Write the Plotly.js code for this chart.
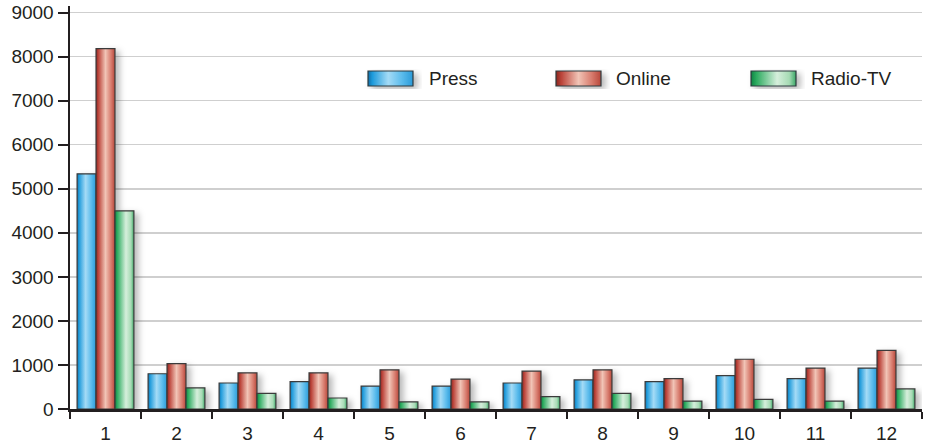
<!DOCTYPE html>
<html>
<head>
<meta charset="utf-8">
<script src="https://cdn.plot.ly/plotly-3.0.1.min.js"></script>
<style>
  html, body { margin: 0; padding: 0; background: #ffffff; }
  #chart { width: 928px; height: 448px; }
</style>
</head>
<body>
<div id="chart"></div>
<script>
// Monthly counts by media type
const months = ['1', '2', '3', '4', '5', '6', '7', '8', '9', '10', '11', '12'];
const press = [5340, 800, 590, 620, 520, 520, 590, 660, 620, 760, 690, 930];
const online = [8180, 1030, 820, 820, 890, 680, 860, 890, 690, 1130, 930, 1330];
const radioTv = [4500, 480, 355, 250, 160, 160, 280, 356, 180, 220, 180, 455];
const seriesNames = ['Press', 'Online', 'Radio-TV'];

// Plot-area geometry (pixels)
const W = 928, H = 448;
const M = { l: 70, r: 6, t: 6, b: 39 };
const plotW = W - M.l - M.r;
const plotH = H - M.t - M.b;
const px2x = px => (px - M.l) / plotW;
const px2y = py => (H - M.b - py) / plotH;

const FONT = 'Liberation Sans, Arial, Helvetica, sans-serif';
const INK = '#231f20';

// Horizontal "cylinder" shading for each series
const gradients = {
  gradPress: [[0, '#0c6fa8'], [0.1, '#1f9bdb'], [0.45, '#a4dbf6'], [0.75, '#5cbcec'], [1, '#2a9ad8']],
  gradOnline: [[0, '#8a2620'], [0.12, '#bb443a'], [0.5, '#f1c4b6'], [0.8, '#d77a6c'], [1, '#b7463a']],
  gradRadio: [[0, '#0f8444'], [0.12, '#2cab5f'], [0.58, '#d6efdc'], [0.85, '#a6dab4'], [1, '#3aa867']]
};
const gradIds = ['gradPress', 'gradOnline', 'gradRadio'];
const flatColors = ['#3aaee6', '#d0604f', '#4cb877'];

const values = [press, online, radioTv];
const traces = values.map((v, i) => ({
  type: 'bar',
  name: seriesNames[i],
  x: months,
  y: v,
  marker: { color: flatColors[i], line: { color: '#3a3a3a', width: 1.2 } },
  hoverinfo: 'skip'
}));

// Legend: wide swatches with labels, laid out in a row
const legendItems = [
  { sw: [368, 413], text: 429 },
  { sw: [556, 601], text: 616 },
  { sw: [751, 796], text: 811 }
];
const swTop = 71, swBottom = 86, legendMid = 78.5;

const shapes = legendItems.map((it, i) => ({
  type: 'rect', xref: 'paper', yref: 'paper', layer: 'above',
  x0: px2x(it.sw[0]), x1: px2x(it.sw[1]),
  y0: px2y(swBottom), y1: px2y(swTop),
  fillcolor: flatColors[i],
  line: { color: '#2e3a3e', width: 1.2 }
}));

const annotations = legendItems.map((it, i) => ({
  xref: 'paper', yref: 'paper',
  x: px2x(it.text), y: px2y(legendMid),
  xanchor: 'left', yanchor: 'middle',
  xshift: -2,
  text: seriesNames[i],
  showarrow: false,
  font: { family: FONT, size: 19, color: INK }
}));

const layout = {
  width: W, height: H,
  margin: M,
  paper_bgcolor: '#ffffff',
  plot_bgcolor: '#ffffff',
  showlegend: false,
  barmode: 'group',
  bargap: 0.2,
  bargroupgap: 0,
  font: { family: FONT, size: 19, color: INK },
  xaxis: {
    type: 'category',
    range: [-0.5, 11.5],
    tickson: 'boundaries',
    ticks: 'outside', ticklen: 7, tickwidth: 2, tickcolor: INK,
    ticklabelstandoff: 6,
    showline: true, linecolor: INK, linewidth: 2.5,
    showgrid: false, zeroline: false,
    tickfont: { family: FONT, size: 19, color: INK }
  },
  yaxis: {
    range: [0, 9150],
    dtick: 1000, tick0: 0,
    ticks: 'outside', ticklen: 10, tickwidth: 2, tickcolor: INK,
    showline: true, linecolor: INK, linewidth: 2.5,
    showgrid: true, gridcolor: '#cfcfcf', gridwidth: 1.5,
    zeroline: false,
    tickfont: { family: FONT, size: 19, color: INK }
  },
  shapes: shapes,
  annotations: annotations
};

const gd = document.getElementById('chart');
Plotly.newPlot(gd, traces, layout, { staticPlot: true, displayModeBar: false }).then(() => {
  const NS = 'http://www.w3.org/2000/svg';
  const svg = gd.querySelector('svg.main-svg');
  let defs = svg.querySelector('defs');
  if (!defs) { defs = document.createElementNS(NS, 'defs'); svg.insertBefore(defs, svg.firstChild); }

  Object.keys(gradients).forEach(id => {
    const g = document.createElementNS(NS, 'linearGradient');
    g.setAttribute('id', id);
    g.setAttribute('x1', '0'); g.setAttribute('y1', '0');
    g.setAttribute('x2', '1'); g.setAttribute('y2', '0');
    gradients[id].forEach(([off, col]) => {
      const s = document.createElementNS(NS, 'stop');
      s.setAttribute('offset', off);
      s.setAttribute('stop-color', col);
      g.appendChild(s);
    });
    defs.appendChild(g);
  });

  // Soft drop shadow behind bars and swatches
  const f = document.createElementNS(NS, 'filter');
  f.setAttribute('id', 'softShadow');
  f.setAttribute('x', '-10%'); f.setAttribute('y', '-10%');
  f.setAttribute('width', '130%'); f.setAttribute('height', '130%');
  const ds = document.createElementNS(NS, 'feDropShadow');
  ds.setAttribute('dx', '4'); ds.setAttribute('dy', '3');
  ds.setAttribute('stdDeviation', '3');
  ds.setAttribute('flood-color', '#000000');
  ds.setAttribute('flood-opacity', '0.28');
  f.appendChild(ds);
  defs.appendChild(f);

  const barTraces = gd.querySelectorAll('.barlayer .trace.bars');
  barTraces.forEach((t, i) => {
    t.querySelectorAll('path').forEach(p => { p.style.fill = 'url(#' + gradIds[i] + ')'; });
  });
  const barLayer = gd.querySelector('.barlayer');
  if (barLayer) barLayer.setAttribute('filter', 'url(#softShadow)');

  gd.querySelectorAll('.shapelayer path').forEach(p => {
    const idx = +p.getAttribute('data-index');
    if (!isNaN(idx) && gradIds[idx]) {
      p.style.fill = 'url(#' + gradIds[idx] + ')';
      p.style.fillOpacity = 1;
      p.setAttribute('filter', 'url(#softShadow)');
    }
  });
});
</script>
</body>
</html>
